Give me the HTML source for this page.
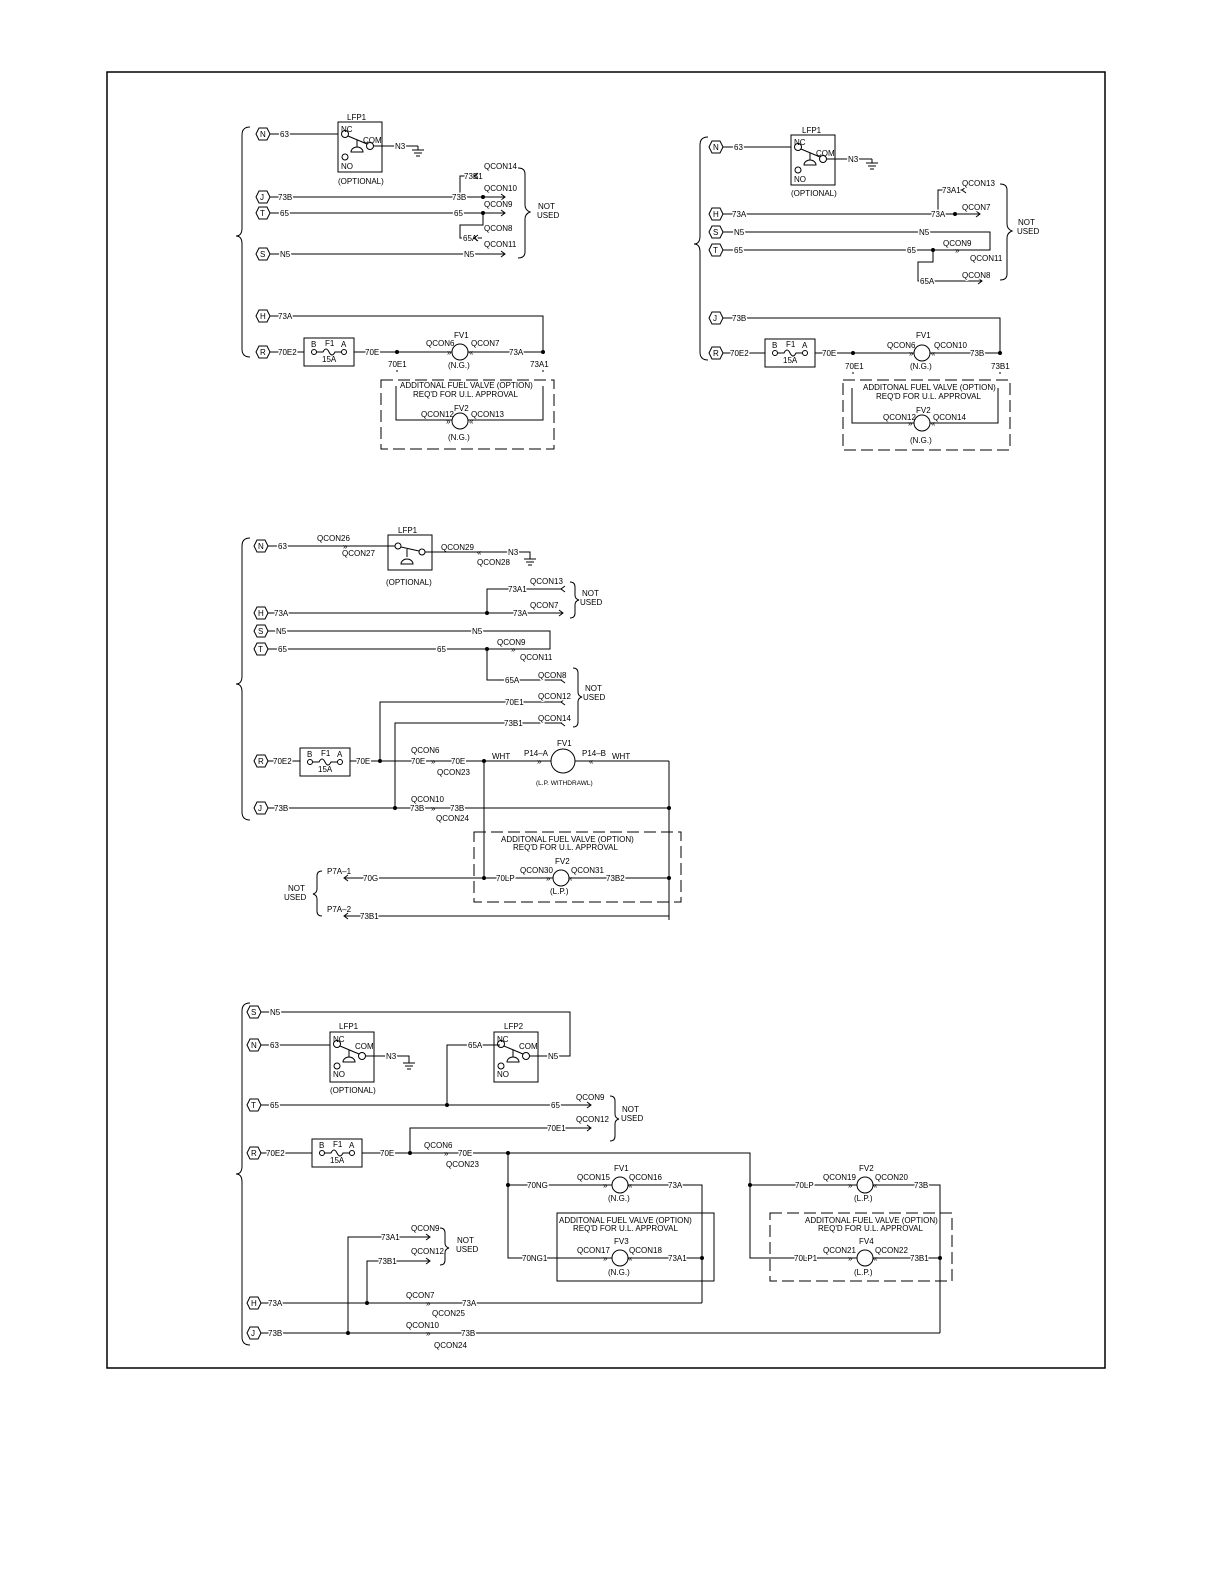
<!DOCTYPE html>
<html><head><meta charset="utf-8"><style>
html,body{margin:0;padding:0;background:#fff;overflow:hidden;width:1224px;height:1584px}
svg{display:block}
text{font-family:"Liberation Sans",sans-serif;font-size:8px;fill:#000;paint-order:stroke;stroke:#fff;stroke-width:3px}
.n{stroke:none}
line,polyline,path,rect,circle,polygon{stroke:#000;stroke-width:1;fill:none}
.d{stroke-dasharray:12,5}
.dot{fill:#000}
</style></head><body>
<svg width="1224" height="1584" viewBox="0 0 1224 1584" xmlns="http://www.w3.org/2000/svg">
<defs>
<polygon id="hx" points="-7,0 -4,-6 4,-6 7,0 4,6 -4,6"/>
<g id="lfp">
<rect x="0" y="0" width="44" height="50" style="fill:#fff"/>
<circle cx="7" cy="12" r="3.5"/><circle cx="32" cy="24" r="3.5"/>
<line x1="10" y1="14" x2="29" y2="22"/><line x1="19" y1="18" x2="19" y2="25"/>
<path d="M13,30 A6,5 0 0 1 25,30 Z"/>
</g>
<g id="gnd"><line x1="0" y1="0" x2="0" y2="4"/><line x1="-6" y1="4" x2="6" y2="4"/><line x1="-4" y1="7" x2="4" y2="7"/><line x1="-2" y1="10" x2="2" y2="10"/></g>
<g id="p6">
<rect x="0" y="0" width="50" height="28" style="fill:#fff"/>
<circle cx="10" cy="14" r="2.5"/><circle cx="40" cy="14" r="2.5"/>
<path d="M12.5,14 H19 q3,-6 6,0 q3,6 6,0 H37.5"/>
</g>
</defs>
<rect x="107" y="72" width="998" height="1296" style="stroke-width:1.5"/>

<!-- ========== SECTION 1 ========== -->
<path d="M250,127 q-8,0 -8,8 V228 q0,8 -6,8 q6,0 6,8 V349 q0,8 8,8"/>
<use href="#hx" x="263" y="134"/><text class="n" x="260" y="137">N</text>
<line x1="270" y1="134" x2="344" y2="134"/><text x="280" y="137">63</text>
<use href="#lfp" x="338" y="122"/>
<text class="n" x="341" y="132">NC</text><text class="n" x="363" y="143">COM</text><text class="n" x="341" y="169">NO</text>
<circle cx="345" cy="157" r="3"/>
<text class="n" x="347" y="120">LFP1</text><text class="n" x="338" y="184">(OPTIONAL)</text>
<line x1="373" y1="146" x2="414" y2="146"/><text x="395" y="149">N3</text><use href="#gnd" x="418" y="146"/><line x1="414" y1="146" x2="418" y2="146"/>
<polyline points="483,197 460,197 460,176 482,176"/><text x="464" y="179">73B1</text><polyline points="478,173 474,176 478,179"/><text x="484" y="169">QCON14</text>
<use href="#hx" x="263" y="197"/><text class="n" x="260" y="200">J</text>
<line x1="270" y1="197" x2="505" y2="197"/><text x="278" y="200">73B</text><text x="452" y="200">73B</text>
<polyline points="501,194 505,197 501,200"/><circle class="dot" cx="483" cy="197" r="1.5"/><text x="484" y="191">QCON10</text>
<use href="#hx" x="263" y="213"/><text class="n" x="260" y="216">T</text>
<line x1="270" y1="213" x2="505" y2="213"/><text x="280" y="216">65</text><text x="454" y="216">65</text>
<polyline points="501,210 505,213 501,216"/><circle class="dot" cx="483" cy="213" r="1.5"/><text x="484" y="207">QCON9</text>
<polyline points="483,213 483,225 460,225 460,238 482,238"/><text x="463" y="241">65A</text><polyline points="478,235 474,238 478,241"/><text x="484" y="231">QCON8</text>
<use href="#hx" x="263" y="254"/><text class="n" x="260" y="257">S</text>
<line x1="270" y1="254" x2="505" y2="254"/><text x="280" y="257">N5</text><text x="464" y="257">N5</text>
<polyline points="501,251 505,254 501,257"/><text x="484" y="247">QCON11</text>
<path d="M518,168 q7,0 7,6 V205 q0,5 5,7 q-5,2 -5,7 V252 q0,6 -7,6"/>
<text class="n" x="538" y="209">NOT</text><text class="n" x="537" y="218">USED</text>
<use href="#hx" x="263" y="316"/><text class="n" x="260" y="319">H</text>
<polyline points="270,316 543,316 543,352"/><text x="278" y="319">73A</text>
<use href="#hx" x="263" y="352"/><text class="n" x="260" y="355">R</text>
<line x1="270" y1="352" x2="452" y2="352"/><line x1="468" y1="352" x2="543" y2="352"/>
<text x="278" y="355">70E2</text>
<use href="#p6" x="304" y="338"/><text class="n" x="311" y="347">B</text><text class="n" x="325" y="346">F1</text><text class="n" x="341" y="347">A</text><text class="n" x="322" y="362">15A</text>
<text x="365" y="355">70E</text><circle class="dot" cx="397" cy="352" r="1.5"/><text class="n" x="388" y="367">70E1</text><line x1="397" y1="370" x2="397" y2="372"/>
<circle cx="460" cy="352" r="8" style="fill:#fff"/><text class="n" x="454" y="338">FV1</text><text class="n" x="448" y="368">(N.G.)</text>
<text class="n" x="426" y="346">QCON6</text><text class="n" x="447" y="355">»</text><text class="n" x="471" y="346">QCON7</text><text class="n" x="469" y="355">«</text>
<text x="509" y="355">73A</text><circle class="dot" cx="543" cy="352" r="1.5"/><text class="n" x="530" y="367">73A1</text><line x1="543" y1="370" x2="543" y2="372"/>
<rect class="d" x="381" y="380" width="173" height="69"/>
<polyline points="396,386 396,420 452,420"/><polyline points="468,420 543,420 543,386"/>
<text class="n" x="400" y="388">ADDITONAL FUEL VALVE (OPTION)</text><text class="n" x="413" y="397">REQ'D FOR U.L. APPROVAL</text>
<circle cx="460" cy="421" r="8" style="fill:#fff"/><text class="n" x="454" y="411">FV2</text><text class="n" x="448" y="440">(N.G.)</text>
<text class="n" x="421" y="417">QCON12</text><text class="n" x="471" y="417">QCON13</text><text class="n" x="446" y="424">»</text><text class="n" x="469" y="424">«</text>

<!-- ========== SECTION 2 ========== -->
<path d="M708,137 q-8,0 -8,8 V236 q0,8 -6,8 q6,0 6,8 V352 q0,8 8,8"/>
<use href="#hx" x="716" y="147"/><text class="n" x="713" y="150">N</text>
<line x1="723" y1="147" x2="797" y2="147"/><text x="734" y="150">63</text>
<use href="#lfp" x="791" y="135"/>
<text class="n" x="794" y="145">NC</text><text class="n" x="816" y="156">COM</text><text class="n" x="794" y="182">NO</text>
<circle cx="798" cy="170" r="3"/>
<text class="n" x="802" y="133">LFP1</text><text class="n" x="791" y="196">(OPTIONAL)</text>
<line x1="826" y1="159" x2="868" y2="159"/><text x="848" y="162">N3</text><use href="#gnd" x="872" y="159"/><line x1="868" y1="159" x2="872" y2="159"/>
<polyline points="955,214 938,214 938,190 962,190"/><text x="942" y="193">73A1</text><polyline points="966,187 962,190 966,193"/><text x="962" y="186">QCON13</text>
<use href="#hx" x="716" y="214"/><text class="n" x="713" y="217">H</text>
<line x1="723" y1="214" x2="980" y2="214"/><text x="732" y="217">73A</text><text x="931" y="217">73A</text>
<polyline points="976,211 980,214 976,217"/><circle class="dot" cx="955" cy="214" r="1.5"/><text x="962" y="210">QCON7</text>
<use href="#hx" x="716" y="232"/><text class="n" x="713" y="235">S</text>
<polyline points="723,232 990,232 990,250 960,250"/><text x="734" y="235">N5</text><text x="919" y="235">N5</text>
<use href="#hx" x="716" y="250"/><text class="n" x="713" y="253">T</text>
<line x1="723" y1="250" x2="960" y2="250"/><text x="734" y="253">65</text><text x="907" y="253">65</text>
<circle class="dot" cx="933" cy="250" r="1.5"/><text class="n" x="943" y="246">QCON9</text><text class="n" x="955" y="253">»</text><text class="n" x="970" y="261">QCON11</text>
<polyline points="933,250 933,262 918,262 918,281 982,281"/><text x="920" y="284">65A</text><polyline points="978,278 982,281 978,284"/><text x="962" y="278">QCON8</text>
<path d="M1000,184 q7,0 7,6 V224 q0,5 5,7 q-5,2 -5,7 V274 q0,6 -7,6"/>
<text class="n" x="1018" y="225">NOT</text><text class="n" x="1017" y="234">USED</text>
<use href="#hx" x="716" y="318"/><text class="n" x="713" y="321">J</text>
<polyline points="723,318 1000,318 1000,353"/><text x="732" y="321">73B</text>
<use href="#hx" x="716" y="353"/><text class="n" x="713" y="356">R</text>
<line x1="723" y1="353" x2="914" y2="353"/><line x1="930" y1="353" x2="1000" y2="353"/>
<text x="730" y="356">70E2</text>
<use href="#p6" x="765" y="339"/><text class="n" x="772" y="348">B</text><text class="n" x="786" y="347">F1</text><text class="n" x="802" y="348">A</text><text class="n" x="783" y="363">15A</text>
<text x="822" y="356">70E</text><circle class="dot" cx="853" cy="353" r="1.5"/><text class="n" x="845" y="369">70E1</text><line x1="853" y1="372" x2="853" y2="374"/>
<circle cx="922" cy="353" r="8" style="fill:#fff"/><text class="n" x="916" y="338">FV1</text><text class="n" x="910" y="369">(N.G.)</text>
<text class="n" x="887" y="348">QCON6</text><text class="n" x="909" y="356">»</text><text class="n" x="934" y="348">QCON10</text><text class="n" x="931" y="356">«</text>
<text x="970" y="356">73B</text><circle class="dot" cx="1000" cy="353" r="1.5"/><text class="n" x="991" y="369">73B1</text><line x1="1000" y1="372" x2="1000" y2="374"/>
<rect class="d" x="843" y="380" width="167" height="70"/>
<polyline points="852,388 852,423 914,423"/><polyline points="930,423 998,423 998,388"/>
<text class="n" x="863" y="390">ADDITONAL FUEL VALVE (OPTION)</text><text class="n" x="876" y="399">REQ'D FOR U.L. APPROVAL</text>
<circle cx="922" cy="423" r="8" style="fill:#fff"/><text class="n" x="916" y="413">FV2</text><text class="n" x="910" y="443">(N.G.)</text>
<text class="n" x="883" y="420">QCON12</text><text class="n" x="933" y="420">QCON14</text><text class="n" x="908" y="426">»</text><text class="n" x="931" y="426">«</text>

<!-- ========== SECTION 3 ========== -->
<path d="M250,538 q-8,0 -8,8 V676 q0,8 -6,8 q6,0 6,8 V812 q0,8 8,8"/>
<use href="#hx" x="261" y="546"/><text class="n" x="258" y="549">N</text>
<line x1="268" y1="546" x2="395" y2="546"/><text x="278" y="549">63</text>
<text class="n" x="317" y="541">QCON26</text><text class="n" x="343" y="549">»</text><text class="n" x="342" y="556">QCON27</text>
<rect x="388" y="535" width="44" height="35"/>
<circle cx="398" cy="546" r="3"/><circle cx="422" cy="552" r="3"/><line x1="401" y1="547" x2="419" y2="551"/>
<line x1="407" y1="549" x2="407" y2="557"/><path d="M401,564 A6,5 0 0 1 413,564 Z"/>
<text class="n" x="398" y="533">LFP1</text><text class="n" x="386" y="585">(OPTIONAL)</text>
<line x1="425" y1="552" x2="525" y2="552"/><text class="n" x="441" y="550">QCON29</text><text class="n" x="477" y="555">«</text><text class="n" x="477" y="565">QCON28</text>
<text x="508" y="555">N3</text><use href="#gnd" x="530" y="555"/><polyline points="520,552 530,552 530,555"/>
<polyline points="487,613 487,589 562,589"/><text x="508" y="592">73A1</text><polyline points="565,586 561,589 565,592"/><text x="530" y="584">QCON13</text>
<use href="#hx" x="261" y="613"/><text class="n" x="258" y="616">H</text>
<line x1="268" y1="613" x2="563" y2="613"/><text x="274" y="616">73A</text><text x="513" y="616">73A</text>
<polyline points="559,610 563,613 559,616"/><circle class="dot" cx="487" cy="613" r="1.5"/><text x="530" y="608">QCON7</text>
<path d="M570,582 q5,0 5,5 V595 q0,4 4,5 q-4,1 -4,5 V613 q0,5 -5,5"/>
<text class="n" x="582" y="596">NOT</text><text class="n" x="580" y="605">USED</text>
<use href="#hx" x="261" y="631"/><text class="n" x="258" y="634">S</text>
<polyline points="268,631 550,631 550,649 525,649"/><text x="276" y="634">N5</text><text x="472" y="634">N5</text>
<use href="#hx" x="261" y="649"/><text class="n" x="258" y="652">T</text>
<line x1="268" y1="649" x2="525" y2="649"/><text x="278" y="652">65</text><text x="437" y="652">65</text>
<circle class="dot" cx="487" cy="649" r="1.5"/><text class="n" x="497" y="645">QCON9</text><text class="n" x="511" y="652">»</text><text class="n" x="520" y="660">QCON11</text>
<polyline points="487,649 487,680 562,680"/><text x="505" y="683">65A</text><polyline points="565,677 561,680 565,683"/><text x="538" y="678">QCON8</text>
<polyline points="380,761 380,702 562,702"/><text x="505" y="705">70E1</text><polyline points="565,699 561,702 565,705"/><text x="538" y="699">QCON12</text>
<polyline points="395,808 395,723 562,723"/><text x="504" y="726">73B1</text><polyline points="565,720 561,723 565,726"/><text x="538" y="721">QCON14</text>
<path d="M573,668 q5,0 5,5 V692 q0,4 4,5 q-4,1 -4,5 V722 q0,5 -5,5"/>
<text class="n" x="585" y="691">NOT</text><text class="n" x="583" y="700">USED</text>
<use href="#hx" x="261" y="761"/><text class="n" x="258" y="764">R</text>
<line x1="268" y1="761" x2="551" y2="761"/><line x1="575" y1="761" x2="669" y2="761"/><line x1="669" y1="761" x2="669" y2="920"/>
<text x="273" y="764">70E2</text>
<use href="#p6" x="300" y="748"/><text class="n" x="307" y="757">B</text><text class="n" x="321" y="756">F1</text><text class="n" x="337" y="757">A</text><text class="n" x="318" y="772">15A</text>
<text x="356" y="764">70E</text><circle class="dot" cx="380" cy="761" r="1.5"/>
<text x="411" y="764">70E</text><text class="n" x="411" y="753">QCON6</text><text class="n" x="431" y="764">»</text><text x="451" y="764">70E</text><text class="n" x="437" y="775">QCON23</text>
<circle class="dot" cx="484" cy="761" r="1.5"/><text x="492" y="759">WHT</text><text x="524" y="756">P14–A</text><text class="n" x="537" y="764">»</text>
<circle cx="563" cy="761" r="12" style="fill:#fff"/><text class="n" x="557" y="746">FV1</text><text class="n" x="536" y="785" style="font-size:6.5px">(L.P. WITHDRAWL)</text>
<text x="582" y="756">P14–B</text><text class="n" x="589" y="764">«</text><text x="612" y="759">WHT</text>
<line x1="484" y1="761" x2="484" y2="878"/>
<use href="#hx" x="261" y="808"/><text class="n" x="258" y="811">J</text>
<line x1="268" y1="808" x2="669" y2="808"/><text x="274" y="811">73B</text>
<circle class="dot" cx="395" cy="808" r="1.5"/><text class="n" x="411" y="802">QCON10</text><text x="410" y="811">73B</text><text class="n" x="431" y="811">»</text><text x="450" y="811">73B</text><text class="n" x="436" y="821">QCON24</text>
<circle class="dot" cx="669" cy="808" r="1.5"/>
<rect class="d" x="474" y="832" width="207" height="70"/>
<text class="n" x="501" y="842">ADDITONAL FUEL VALVE (OPTION)</text><text class="n" x="513" y="850">REQ'D FOR U.L. APPROVAL</text>
<line x1="345" y1="878" x2="553" y2="878"/><line x1="569" y1="878" x2="669" y2="878"/>
<circle cx="561" cy="878" r="8" style="fill:#fff"/><text class="n" x="555" y="864">FV2</text><text class="n" x="550" y="894">(L.P.)</text>
<text x="496" y="881">70LP</text><text class="n" x="520" y="873">QCON30</text><text class="n" x="546" y="881">»</text><text class="n" x="571" y="873">QCON31</text><text class="n" x="568" y="881">«</text><text x="606" y="881">73B2</text>
<circle class="dot" cx="484" cy="878" r="1.5"/><circle class="dot" cx="669" cy="878" r="1.5"/>
<text x="363" y="881">70G</text><polyline points="348,875 344,878 348,881"/><text class="n" x="327" y="874">P7A–1</text>
<polyline points="345,916 669,916 669,878"/><text x="360" y="919">73B1</text><polyline points="348,913 344,916 348,919"/><text class="n" x="327" y="912">P7A–2</text>
<path d="M322,871 q-5,0 -5,5 V889 q0,4 -4,5 q4,1 4,5 V911 q0,5 5,5"/>
<text class="n" x="288" y="891">NOT</text><text class="n" x="284" y="900">USED</text>

<!-- ========== SECTION 4 ========== -->
<path d="M250,1003 q-8,0 -8,8 V1166 q0,8 -6,8 q6,0 6,8 V1337 q0,8 8,8"/>
<use href="#hx" x="254" y="1012"/><text class="n" x="251" y="1015">S</text>
<polyline points="261,1012 570,1012 570,1056 545,1056"/><text x="270" y="1015">N5</text><text x="548" y="1059">N5</text>
<use href="#hx" x="254" y="1045"/><text class="n" x="251" y="1048">N</text>
<line x1="261" y1="1045" x2="336" y2="1045"/><text x="270" y="1048">63</text>
<use href="#lfp" x="330" y="1032"/>
<text class="n" x="333" y="1042">NC</text><text class="n" x="355" y="1049">COM</text><text class="n" x="333" y="1077">NO</text><circle cx="337" cy="1066" r="3"/>
<text class="n" x="339" y="1029">LFP1</text><text class="n" x="330" y="1093">(OPTIONAL)</text>
<line x1="365" y1="1056" x2="404" y2="1056"/><text x="386" y="1059">N3</text><use href="#gnd" x="409" y="1059"/><polyline points="404,1056 409,1056 409,1059"/>
<use href="#lfp" x="494" y="1032"/>
<text class="n" x="497" y="1042">NC</text><text class="n" x="519" y="1049">COM</text><text class="n" x="497" y="1077">NO</text><circle cx="501" cy="1066" r="3"/>
<text class="n" x="504" y="1029">LFP2</text>
<polyline points="447,1105 447,1045 500,1045"/><text x="468" y="1048">65A</text><line x1="529" y1="1056" x2="545" y2="1056"/>
<use href="#hx" x="254" y="1105"/><text class="n" x="251" y="1108">T</text>
<line x1="261" y1="1105" x2="591" y2="1105"/><text x="270" y="1108">65</text><text x="551" y="1108">65</text>
<polyline points="587,1102 591,1105 587,1108"/><circle class="dot" cx="447" cy="1105" r="1.5"/><text x="576" y="1100">QCON9</text>
<polyline points="410,1153 410,1128 591,1128"/><text x="547" y="1131">70E1</text><polyline points="587,1125 591,1128 587,1131"/><text x="576" y="1122">QCON12</text>
<path d="M610,1096 q5,0 5,5 V1114 q0,4 4,5 q-4,1 -4,5 V1136 q0,5 -5,5"/>
<text class="n" x="622" y="1112">NOT</text><text class="n" x="621" y="1121">USED</text>
<use href="#hx" x="254" y="1153"/><text class="n" x="251" y="1156">R</text>
<polyline points="261,1153 750,1153 750,1258 770,1258"/>
<text x="266" y="1156">70E2</text>
<use href="#p6" x="312" y="1139"/><text class="n" x="319" y="1148">B</text><text class="n" x="333" y="1147">F1</text><text class="n" x="349" y="1148">A</text><text class="n" x="330" y="1163">15A</text>
<text x="380" y="1156">70E</text><circle class="dot" cx="410" cy="1153" r="1.5"/>
<text class="n" x="424" y="1148">QCON6</text><text class="n" x="444" y="1156">»</text><text x="458" y="1156">70E</text><text class="n" x="446" y="1167">QCON23</text>
<circle class="dot" cx="508" cy="1153" r="1.5"/>
<polyline points="508,1153 508,1258 612,1258"/><line x1="508" y1="1185" x2="612" y2="1185"/>
<circle class="dot" cx="508" cy="1185" r="1.5"/>
<polyline points="628,1185 702,1185 702,1303"/>
<circle cx="620" cy="1185" r="8" style="fill:#fff"/><text class="n" x="614" y="1171">FV1</text><text class="n" x="608" y="1201">(N.G.)</text>
<text x="527" y="1188">70NG</text><text class="n" x="577" y="1180">QCON15</text><text class="n" x="603" y="1188">»</text><text class="n" x="629" y="1180">QCON16</text><text class="n" x="628" y="1188">«</text><text x="668" y="1188">73A</text>
<rect x="557" y="1213" width="157" height="68"/>
<text class="n" x="559" y="1223">ADDITONAL FUEL VALVE (OPTION)</text><text class="n" x="573" y="1231">REQ'D FOR U.L. APPROVAL</text>
<line x1="628" y1="1258" x2="702" y2="1258"/><circle class="dot" cx="702" cy="1258" r="1.5"/>
<circle cx="620" cy="1258" r="8" style="fill:#fff"/><text class="n" x="614" y="1244">FV3</text><text class="n" x="608" y="1275">(N.G.)</text>
<text x="522" y="1261">70NG1</text><text class="n" x="577" y="1253">QCON17</text><text class="n" x="603" y="1261">»</text><text class="n" x="629" y="1253">QCON18</text><text class="n" x="628" y="1261">«</text><text x="668" y="1261">73A1</text>
<circle class="dot" cx="750" cy="1185" r="1.5"/>
<line x1="750" y1="1185" x2="857" y2="1185"/><polyline points="873,1185 940,1185 940,1333"/>
<circle cx="865" cy="1185" r="8" style="fill:#fff"/><text class="n" x="859" y="1171">FV2</text><text class="n" x="854" y="1201">(L.P.)</text>
<text x="795" y="1188">70LP</text><text class="n" x="823" y="1180">QCON19</text><text class="n" x="848" y="1188">»</text><text class="n" x="875" y="1180">QCON20</text><text class="n" x="873" y="1188">«</text><text x="914" y="1188">73B</text>
<rect class="d" x="770" y="1213" width="182" height="68"/>
<text class="n" x="805" y="1223">ADDITONAL FUEL VALVE (OPTION)</text><text class="n" x="818" y="1231">REQ'D FOR U.L. APPROVAL</text>
<line x1="770" y1="1258" x2="857" y2="1258"/><line x1="873" y1="1258" x2="940" y2="1258"/><circle class="dot" cx="940" cy="1258" r="1.5"/>
<circle cx="865" cy="1258" r="8" style="fill:#fff"/><text class="n" x="859" y="1244">FV4</text><text class="n" x="854" y="1275">(L.P.)</text>
<text x="794" y="1261">70LP1</text><text class="n" x="823" y="1253">QCON21</text><text class="n" x="848" y="1261">»</text><text class="n" x="875" y="1253">QCON22</text><text class="n" x="873" y="1261">«</text><text x="910" y="1261">73B1</text>
<polyline points="348,1333 348,1237 430,1237"/><text x="381" y="1240">73A1</text><polyline points="426,1234 430,1237 426,1240"/><text x="411" y="1231">QCON9</text>
<polyline points="367,1303 367,1261 430,1261"/><text x="378" y="1264">73B1</text><polyline points="426,1258 430,1261 426,1264"/><text x="411" y="1254">QCON12</text>
<path d="M440,1228 q5,0 5,5 V1243 q0,4 4,5 q-4,1 -4,5 V1260 q0,5 -5,5"/>
<text class="n" x="457" y="1243">NOT</text><text class="n" x="456" y="1252">USED</text>
<use href="#hx" x="254" y="1303"/><text class="n" x="251" y="1306">H</text>
<line x1="261" y1="1303" x2="702" y2="1303"/><text x="268" y="1306">73A</text>
<circle class="dot" cx="367" cy="1303" r="1.5"/><text class="n" x="406" y="1298">QCON7</text><text class="n" x="426" y="1306">»</text><text x="462" y="1306">73A</text><text class="n" x="432" y="1316">QCON25</text>
<use href="#hx" x="254" y="1333"/><text class="n" x="251" y="1336">J</text>
<line x1="261" y1="1333" x2="940" y2="1333"/><text x="268" y="1336">73B</text>
<circle class="dot" cx="348" cy="1333" r="1.5"/><text class="n" x="406" y="1328">QCON10</text><text class="n" x="426" y="1336">»</text><text x="461" y="1336">73B</text><text class="n" x="434" y="1348">QCON24</text>
</svg>
</body></html>
